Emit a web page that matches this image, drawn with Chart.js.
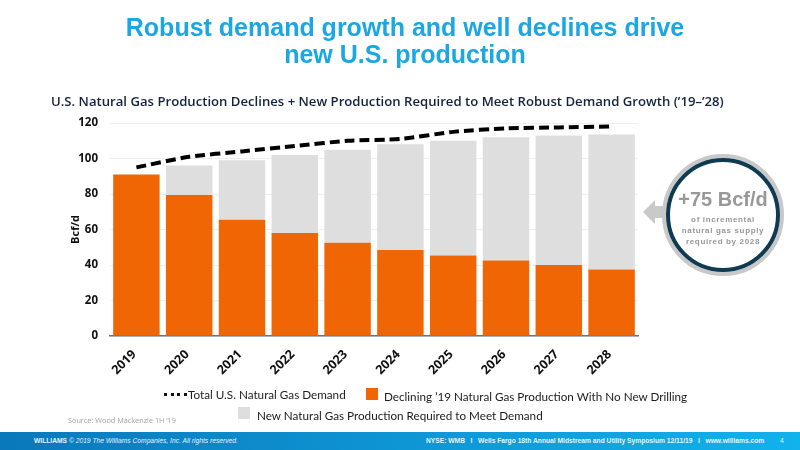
<!DOCTYPE html>
<html>
<head>
<meta charset="utf-8">
<script src="https://cdn.jsdelivr.net/npm/chart.js@4"></script>
<style>
  html, body { margin: 0; padding: 0; background: #fff; }
  #slide { position: relative; width: 800px; height: 450px; overflow: hidden; font-family: "Open Sans", sans-serif; }
  #slide canvas { position: absolute; left: 0; top: 0; }
  .txt { position: absolute; white-space: nowrap; }
  #title { left: 5px; width: 800px; top: 14px; text-align: center; font: bold 25px/27px "Liberation Sans", sans-serif; color: #1aa7e3; }
  #subtitle { left: 51px; top: 92px; font-size: 13.15px; font-weight: 600; color: #14233c; }
  .leg { font-family: Lato, sans-serif; font-size: 11.7px; color: #1c1c1c; }
  .box { position: absolute; width: 12px; height: 12px; }
  #dots { position: absolute; left: 164px; top: 393px; width: 23px; border-top: 3px dotted #111; }
  #source { left: 68px; top: 415px; font-size: 7.3px; color: #a0a0a0; }
  #footer { position: absolute; left: 0; top: 432px; width: 800px; height: 18px; background: linear-gradient(90deg, #0a78bb, #12b2ec); color: #e4f4fc; font: 6.7px/18px "Liberation Sans", sans-serif; }
  #footer span { position: absolute; top: 0; white-space: nowrap; }
  #arrow { position: absolute; left: 643px; top: 200px; width: 24px; height: 24px; background: #c9c9c9; clip-path: polygon(0 50%, 50% 0, 50% 25%, 100% 25%, 100% 75%, 50% 75%, 50% 100%); }
  #ring { position: absolute; left: 662px; top: 154px; width: 122px; height: 122px; border-radius: 50%; background: #fff; border: 4px solid #c8c8c8; box-sizing: border-box; }
  #ring div { position: absolute; left: 0; top: 0; right: 0; bottom: 0; border-radius: 50%; border: 4px solid #0f3b52; }
  .circ { left: 662px; width: 122px; text-align: center; color: #989898; font-family: "Liberation Sans", sans-serif; }
</style>
</head>
<body>
<div id="slide">
  <canvas id="chart" width="800" height="450"></canvas>
  <div class="txt" id="title">Robust demand growth and well declines drive<br>new U.S. production</div>
  <div class="txt" id="subtitle">U.S. Natural Gas Production Declines + New Production Required to Meet Robust Demand Growth (’19–’28)</div>

  <div id="arrow"></div>
  <div id="ring"><div></div></div>
  <div class="txt circ" style="top:188px;font-size:20px;font-weight:bold;">+75 Bcf/d</div>
  <div class="txt circ" style="top:214px;font-size:8px;font-weight:bold;letter-spacing:.65px;line-height:11px;">of incremental<br>natural gas supply<br>required by 2028</div>

  <div id="dots"></div>
  <div class="txt leg" style="left:188px;top:387px;">Total U.S. Natural Gas Demand</div>
  <div class="box" style="left:366px;top:388px;background:#f06605;"></div>
  <div class="txt leg" style="left:384px;top:389px;">Declining ’19 Natural Gas Production With No New Drilling</div>
  <div class="box" style="left:238px;top:407px;background:#dedede;"></div>
  <div class="txt leg" style="left:257px;top:408px;">New Natural Gas Production Required to Meet Demand</div>
  <div class="txt" id="source">Source: Wood Mackenzie 1H ’19</div>

  <div id="footer">
    <span style="left:34px;"><b>WILLIAMS</b> <i>© 2019 The Williams Companies, Inc. All rights reserved.</i></span>
    <span style="left:426px;font-weight:bold;">NYSE: WMB &nbsp; I &nbsp; Wells Fargo 18th Annual Midstream and Utility Symposium 12/11/19 &nbsp; I &nbsp; www.williams.com</span>
    <span style="left:780px;">4</span>
  </div>
</div>

<script>
// Data
const years = ["2019","2020","2021","2022","2023","2024","2025","2026","2027","2028"];
const declining = [91, 79.5, 65.5, 58, 52.5, 48.5, 45.3, 42.5, 40, 37.5];
const newProduction = [0, 16.5, 33.5, 44, 52.5, 59.5, 64.7, 69.5, 73, 76];
const demand = [95, 101, 104, 107, 110, 111, 115, 117, 117.5, 118];

new Chart(document.getElementById("chart"), {
  type: "bar",
  data: {
    labels: years,
    datasets: [
      { type: "line", label: "Total U.S. Natural Gas Demand", data: demand, stack: "demand", order: 0,
        borderColor: "#000", borderWidth: 4, borderDash: [10, 5], pointRadius: 0, fill: false, tension: 0.2 },
      { label: "Declining ’19 Natural Gas Production With No New Drilling", data: declining, stack: "supply", order: 1,
        backgroundColor: "#f06605", barPercentage: 0.88, categoryPercentage: 1 },
      { label: "New Natural Gas Production Required to Meet Demand", data: newProduction, stack: "supply", order: 1,
        backgroundColor: "#dedede", barPercentage: 0.88, categoryPercentage: 1 }
    ]
  },
  options: {
    responsive: false,
    animation: false,
    layout: { padding: { left: 69, right: 162, top: 123, bottom: 58 } },
    plugins: { legend: { display: false }, tooltip: { enabled: false } },
    scales: {
      x: {
        stacked: true,
        afterFit: s => { s.height = 56; },
        grid: { display: false },
        border: { color: "#6b7280", width: 1.5 },
        ticks: { color: "#111", maxRotation: 45, minRotation: 45, labelOffset: -2, font: { family: "Open Sans", size: 12.5, weight: "bold" } }
      },
      y: {
        stacked: true,
        min: 0, max: 120,
        afterFit: s => { s.width = 41; },
        grid: { color: "#eeeeee", drawTicks: false },
        border: { display: false },
        ticks: { stepSize: 20, padding: 12, color: "#111", font: { family: "Open Sans", size: 11.5, weight: "bold" } },
        title: { display: true, text: "Bcf/d", color: "#111", padding: 0, font: { family: "Open Sans", size: 11, weight: "bold" } }
      }
    }
  }
});
</script>
</body>
</html>
